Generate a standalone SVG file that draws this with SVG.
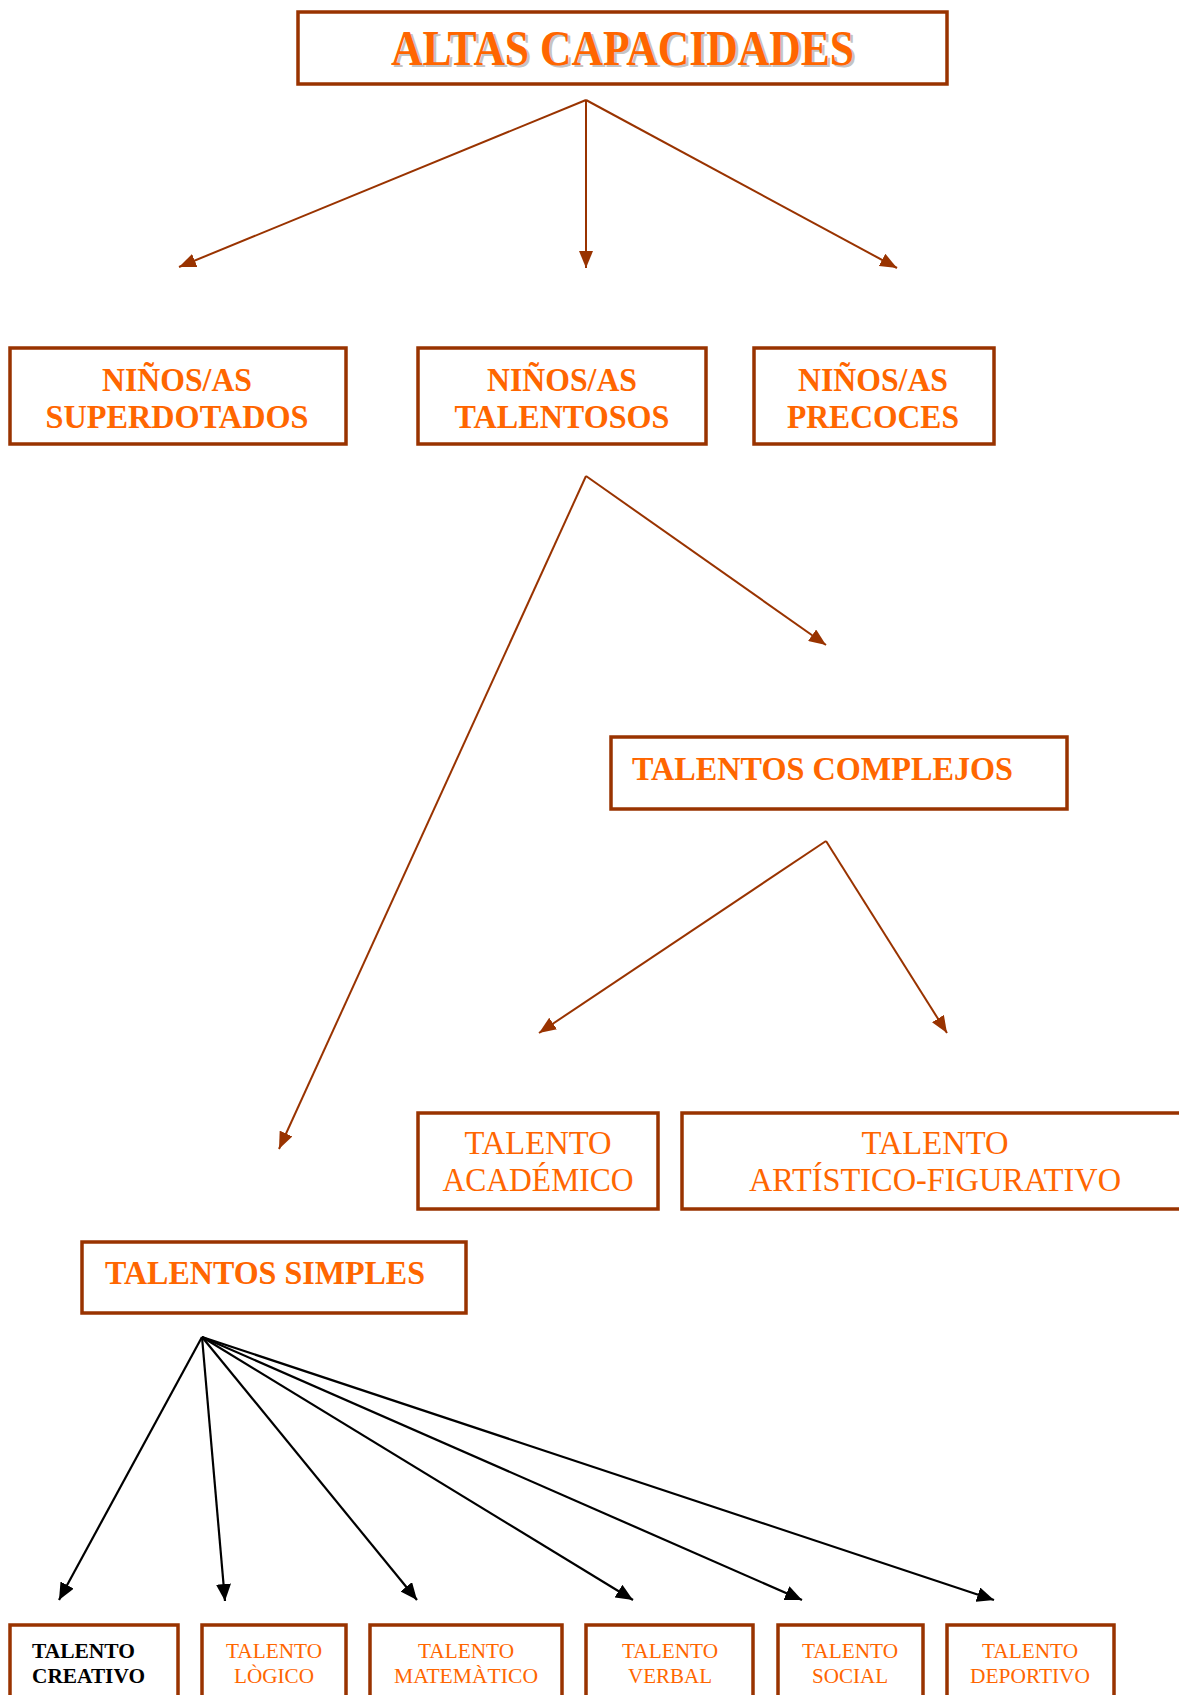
<svg xmlns="http://www.w3.org/2000/svg" width="1179" height="1695" viewBox="0 0 1179 1695">
  <style>
    .box { fill: #FFFFFF; stroke: #993300; stroke-width: 3.5; }
    .t { font-family: "Liberation Serif", "Times New Roman", serif; fill: #FF6600; }
    .b { font-weight: bold; }
    .mid { text-anchor: middle; }
    .shadow { fill: #C4C4C4; }
    .ink { fill: #000000; }
    .link { fill: none; stroke: #993300; stroke-width: 2; }
    .link-k { fill: none; stroke: #000000; stroke-width: 2.2; }
  </style>
  <defs>
    <marker id="arr-brown" viewBox="0 0 17 14" refX="17" refY="7" markerWidth="17" markerHeight="14" markerUnits="userSpaceOnUse" orient="auto">
      <path d="M0,0 L17,7 L0,14 z" fill="#993300"/>
    </marker>
    <marker id="arr-black" viewBox="0 0 17 15" refX="17" refY="7.5" markerWidth="17" markerHeight="15" markerUnits="userSpaceOnUse" orient="auto">
      <path d="M0,0 L17,7.5 L0,15 z" fill="#000000"/>
    </marker>
  </defs>

  <rect width="1179" height="1695" fill="#FFFFFF"/>

  <!-- connectors -->
  <g id="connectors">
    <path class="link" marker-end="url(#arr-brown)" d="M586,100 L179,267"/>
    <path class="link" marker-end="url(#arr-brown)" d="M586,100 L586,268"/>
    <path class="link" marker-end="url(#arr-brown)" d="M586,100 L897,268"/>

    <path class="link" marker-end="url(#arr-brown)" d="M586,476 L826,645"/>
    <path class="link" marker-end="url(#arr-brown)" d="M586,476 L279,1149"/>

    <path class="link" marker-end="url(#arr-brown)" d="M826,841 L539,1033"/>
    <path class="link" marker-end="url(#arr-brown)" d="M826,841 L947,1033"/>

    <path class="link-k" marker-end="url(#arr-black)" d="M202,1337 L59,1600"/>
    <path class="link-k" marker-end="url(#arr-black)" d="M202,1337 L225,1601"/>
    <path class="link-k" marker-end="url(#arr-black)" d="M202,1337 L417,1600"/>
    <path class="link-k" marker-end="url(#arr-black)" d="M202,1337 L633,1600"/>
    <path class="link-k" marker-end="url(#arr-black)" d="M202,1337 L802,1600"/>
    <path class="link-k" marker-end="url(#arr-black)" d="M202,1337 L994,1600"/>
  </g>

  <!-- root -->
  <g id="altas-capacidades">
    <rect class="box" x="298" y="12" width="649" height="72"/>
    <text class="t b shadow" x="393.5" y="67" font-size="50" textLength="463" lengthAdjust="spacingAndGlyphs">ALTAS CAPACIDADES</text>
    <text class="t b" x="391" y="65" font-size="50" textLength="463" lengthAdjust="spacingAndGlyphs">ALTAS CAPACIDADES</text>
  </g>

  <!-- second level -->
  <g id="superdotados">
    <rect class="box" x="10" y="348" width="336" height="96"/>
    <text class="t b mid" x="177" y="391" font-size="34" textLength="150" lengthAdjust="spacingAndGlyphs">NIÑOS/AS</text>
    <text class="t b mid" x="177" y="428" font-size="34" textLength="263" lengthAdjust="spacingAndGlyphs">SUPERDOTADOS</text>
  </g>
  <g id="talentosos">
    <rect class="box" x="418" y="348" width="288" height="96"/>
    <text class="t b mid" x="562" y="391" font-size="34" textLength="150" lengthAdjust="spacingAndGlyphs">NIÑOS/AS</text>
    <text class="t b mid" x="562" y="428" font-size="34" textLength="215" lengthAdjust="spacingAndGlyphs">TALENTOSOS</text>
  </g>
  <g id="precoces">
    <rect class="box" x="754" y="348" width="240" height="96"/>
    <text class="t b mid" x="873" y="391" font-size="34" textLength="150" lengthAdjust="spacingAndGlyphs">NIÑOS/AS</text>
    <text class="t b mid" x="873" y="428" font-size="34" textLength="172" lengthAdjust="spacingAndGlyphs">PRECOCES</text>
  </g>

  <!-- complex talents -->
  <g id="talentos-complejos">
    <rect class="box" x="611" y="737" width="456" height="72"/>
    <text class="t b" x="632" y="780" font-size="34" textLength="381" lengthAdjust="spacingAndGlyphs">TALENTOS COMPLEJOS</text>
  </g>
  <g id="talento-academico">
    <rect class="box" x="418" y="1113" width="240" height="96"/>
    <text class="t mid" x="538" y="1154" font-size="33" textLength="147" lengthAdjust="spacingAndGlyphs">TALENTO</text>
    <text class="t mid" x="538" y="1191" font-size="33" textLength="191" lengthAdjust="spacingAndGlyphs">ACADÉMICO</text>
  </g>
  <g id="talento-artistico">
    <rect class="box" x="682" y="1113" width="510" height="96"/>
    <text class="t mid" x="935" y="1154" font-size="33" textLength="147" lengthAdjust="spacingAndGlyphs">TALENTO</text>
    <text class="t mid" x="935" y="1191" font-size="33" textLength="372" lengthAdjust="spacingAndGlyphs">ARTÍSTICO-FIGURATIVO</text>
  </g>

  <!-- simple talents -->
  <g id="talentos-simples">
    <rect class="box" x="82" y="1242" width="384" height="71"/>
    <text class="t b" x="105" y="1284" font-size="34" textLength="320" lengthAdjust="spacingAndGlyphs">TALENTOS SIMPLES</text>
  </g>

  <g id="talento-creativo">
    <rect class="box" x="10" y="1625" width="168" height="90"/>
    <text class="t b ink" x="32" y="1658" font-size="22" textLength="103" lengthAdjust="spacingAndGlyphs">TALENTO</text>
    <text class="t b ink" x="32" y="1683" font-size="22" textLength="113" lengthAdjust="spacingAndGlyphs">CREATIVO</text>
  </g>
  <g id="talento-logico">
    <rect class="box" x="202" y="1625" width="144" height="90"/>
    <text class="t mid" x="274" y="1658" font-size="22" textLength="96" lengthAdjust="spacingAndGlyphs">TALENTO</text>
    <text class="t mid" x="274" y="1683" font-size="22" textLength="80" lengthAdjust="spacingAndGlyphs">LÒGICO</text>
  </g>
  <g id="talento-matematico">
    <rect class="box" x="370" y="1625" width="192" height="90"/>
    <text class="t mid" x="466" y="1658" font-size="22" textLength="96" lengthAdjust="spacingAndGlyphs">TALENTO</text>
    <text class="t mid" x="466" y="1683" font-size="22" textLength="144" lengthAdjust="spacingAndGlyphs">MATEMÀTICO</text>
  </g>
  <g id="talento-verbal">
    <rect class="box" x="586" y="1625" width="167" height="90"/>
    <text class="t mid" x="670" y="1658" font-size="22" textLength="96" lengthAdjust="spacingAndGlyphs">TALENTO</text>
    <text class="t mid" x="670" y="1683" font-size="22" textLength="84" lengthAdjust="spacingAndGlyphs">VERBAL</text>
  </g>
  <g id="talento-social">
    <rect class="box" x="778" y="1625" width="145" height="90"/>
    <text class="t mid" x="850" y="1658" font-size="22" textLength="96" lengthAdjust="spacingAndGlyphs">TALENTO</text>
    <text class="t mid" x="850" y="1683" font-size="22" textLength="76" lengthAdjust="spacingAndGlyphs">SOCIAL</text>
  </g>
  <g id="talento-deportivo">
    <rect class="box" x="947" y="1625" width="167" height="90"/>
    <text class="t mid" x="1030" y="1658" font-size="22" textLength="96" lengthAdjust="spacingAndGlyphs">TALENTO</text>
    <text class="t mid" x="1030" y="1683" font-size="22" textLength="120" lengthAdjust="spacingAndGlyphs">DEPORTIVO</text>
  </g>
</svg>
